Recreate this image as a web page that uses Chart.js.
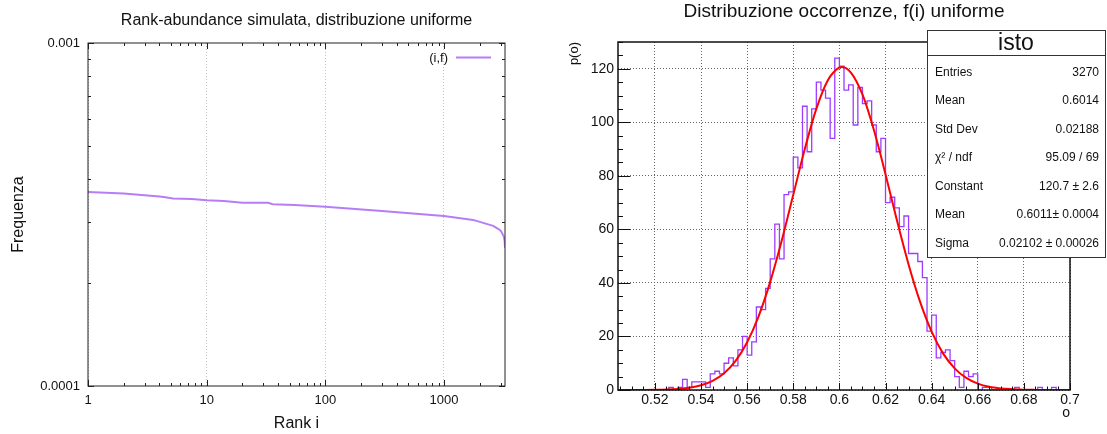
<!DOCTYPE html>
<html>
<head>
<meta charset="utf-8">
<script src="https://cdn.jsdelivr.net/npm/chart.js@4.4.1/dist/chart.umd.min.js"></script>
<style>
  html, body { margin: 0; padding: 0; background: #fff; }
  #wrap { position: relative; width: 1107px; height: 434px; overflow: hidden; }
  #rankChart { position: absolute; left: 0; top: 0; }
  #histChart { position: absolute; left: 540px; top: 0; }
</style>
</head>
<body>
<div id="wrap">
  <canvas id="rankChart" width="540" height="434"></canvas>
  <canvas id="histChart" width="567" height="434"></canvas>
</div>
<script>
// ---- rank-abundance curve (sorted frequencies) ----
const rankValues = [1, 2, 4, 4.5, 5.2, 7.5, 10, 14, 20, 33, 36, 55, 100, 300, 1000, 1760, 2600, 2770, 2960, 3060, 3200, 3250, 3270];
const freqValues = [3.68e-4, 3.64e-4, 3.57e-4, 3.55e-4, 3.52e-4, 3.51e-4, 3.48e-4, 3.46e-4, 3.42e-4, 3.42e-4, 3.39e-4, 3.37e-4,
                    3.33e-4, 3.24e-4, 3.13e-4, 3.05e-4, 2.93e-4, 2.89e-4, 2.85e-4, 2.81e-4, 2.72e-4, 2.64e-4, 2.53e-4];
const rankTicks = [1, 10, 100, 1000];
const freqTicks = [0.0001, 0.001];

// ---- occurrence histogram, 98 bins of 0.002 starting at 0.504 ----
const binStart = 0.504;
const binWidth = 0.002;
const binCounts = [
  0, 0, 0, 0, 0, 0, 0, 0, 0, 0,
  0, 1, 0, 1, 4, 1, 3, 3, 3, 1,
  6, 7, 6, 10, 12, 9, 15, 20, 13, 18,
  31, 30, 38, 49, 62, 49, 73, 74, 87, 83,
  106, 89, 105, 115, 112, 109, 94, 124, 121, 112,
  114, 99, 113, 107, 108, 99, 89, 94, 70, 72,
  68, 61, 65, 51, 51, 48, 42, 22, 28, 12,
  14, 15, 11, 5, 1, 7, 5, 6, 0, 1,
  1, 0, 0, 0, 0, 0, 1, 0, 0, 0,
  0, 1, 0, 0, 1, 0, 0, 0
];
// gaussian fit curve
const fitX = [0.504, 0.505, 0.51, 0.515, 0.52, 0.525, 0.53, 0.535, 0.54, 0.545, 0.55, 0.555, 0.56, 0.565, 0.57, 0.575,
              0.58, 0.585, 0.59, 0.595, 0.6, 0.6011, 0.605, 0.61, 0.615, 0.62, 0.625, 0.63, 0.635, 0.64, 0.645, 0.65,
              0.655, 0.66, 0.665, 0.67, 0.675, 0.68, 0.685, 0.69, 0.695, 0.7];
const fitY = [0, 0, 0.01, 0.03, 0.07, 0.17, 0.4, 0.86, 1.76, 3.43, 6.28, 10.89, 17.85, 27.62, 40.39, 55.83,
              72.93, 90.02, 105.0, 115.7, 120.5, 120.7, 118.6, 110.4, 97.0, 80.6, 63.2, 46.9, 32.9, 21.8, 13.6, 8.1,
              4.5, 2.4, 1.2, 0.6, 0.3, 0.1, 0.04, 0.02, 0.01, 0];
const occTicks = [0.52, 0.54, 0.56, 0.58, 0.6, 0.62, 0.64, 0.66, 0.68, 0.7];
const countTicks = [0, 20, 40, 60, 80, 100, 120];
const statLabels = ['Entries', 'Mean', 'Std Dev', 'χ² / ndf', 'Constant', 'Mean', 'Sigma'];
const statValues = ['3270', '0.6014', '0.02188', '95.09 / 69', '120.7 ± 2.6', '0.6011± 0.0004', '0.02102 ± 0.00026'];

const SANS = "'Liberation Sans', Arial, sans-serif";
Chart.defaults.font.family = SANS;
Chart.defaults.color = '#111';

// inward tick marks + frame drawn on top of the data
function frameTicks(cfg) {
  return {
    id: 'frameTicks',
    afterDatasetsDraw(chart) {
      const { ctx, chartArea: a } = chart;
      const sx = chart.scales.x, sy = chart.scales.y;
      ctx.save();
      ctx.strokeStyle = cfg.color;
      ctx.lineWidth = 1;
      ctx.beginPath();
      cfg.xTicks.forEach(([v, len]) => {
        const px = Math.round(sx.getPixelForValue(v)) + 0.5;
        ctx.moveTo(px, a.bottom); ctx.lineTo(px, a.bottom - len);
        if (cfg.mirror) { ctx.moveTo(px, a.top); ctx.lineTo(px, a.top + len); }
      });
      cfg.yTicks.forEach(([v, len]) => {
        const py = Math.round(sy.getPixelForValue(v)) + 0.5;
        ctx.moveTo(a.left, py); ctx.lineTo(a.left + len, py);
        if (cfg.mirror) { ctx.moveTo(a.right, py); ctx.lineTo(a.right - len, py); }
      });
      ctx.stroke();
      ctx.lineWidth = cfg.frameWidth;
      ctx.strokeRect(a.left, a.top, a.right - a.left, a.bottom - a.top);
      ctx.restore();
    }
  };
}

// ---------------- left: rank-abundance ----------------
const rankMinor = [];
[1, 10, 100, 1000].forEach(d => {
  for (let m = 2; m <= 9; m++) if (m * d < 3270) rankMinor.push([m * d, 3]);
});
const freqMinor = [];
for (let m = 2; m <= 9; m++) freqMinor.push([m * 0.0001, 3]);

const lineColor = '#b77df7';

const legendPlugin = {
  id: 'lineKey',
  afterDraw(chart) {
    const ctx = chart.ctx;
    ctx.save();
    ctx.font = '13px ' + SANS;
    ctx.fillStyle = '#111';
    ctx.textAlign = 'right';
    ctx.textBaseline = 'alphabetic';
    ctx.fillText(chart.data.datasets[0].label, 448, 61.5);
    ctx.strokeStyle = lineColor;
    ctx.lineWidth = 2;
    ctx.beginPath();
    ctx.moveTo(456, 57.5); ctx.lineTo(491, 57.5);
    ctx.stroke();
    ctx.restore();
  }
};

new Chart(document.getElementById('rankChart'), {
  type: 'line',
  data: {
    datasets: [{
      label: '(i,f)',
      data: rankValues.map((r, i) => ({ x: r, y: freqValues[i] })),
      borderColor: lineColor,
      borderWidth: 2,
      pointRadius: 0,
      tension: 0
    }]
  },
  options: {
    responsive: false,
    animation: false,
    layout: { padding: { left: 0, right: 35, top: 0, bottom: 0 } },
    plugins: {
      legend: { display: false },
      tooltip: { enabled: false },
      title: {
        display: true,
        fullSize: false,
        text: 'Rank-abundance simulata, distribuzione uniforme',
        font: { size: 16, weight: 'normal' },
        color: '#111',
        padding: { top: 10.8, bottom: 13 }
      }
    },
    scales: {
      x: {
        type: 'logarithmic',
        min: 1,
        max: 3270,
        afterBuildTicks: s => { s.ticks = rankTicks.map(v => ({ value: v })); },
        afterFit: s => { s.height = 48; },
        ticks: { callback: v => String(v), font: { size: 13 }, padding: 6.7, maxRotation: 0, autoSkip: false },
        grid: { color: '#c4c4c4', lineWidth: 1, drawTicks: false },
        border: { display: false, dash: [1, 2] },
        title: { display: true, text: 'Rank i', font: { size: 16 }, padding: { top: 0, bottom: 0.7 } }
      },
      y: {
        type: 'logarithmic',
        min: 0.0001,
        max: 0.001,
        afterBuildTicks: s => { s.ticks = freqTicks.map(v => ({ value: v })); },
        afterFit: s => { s.width = 88; },
        ticks: { callback: v => String(v), font: { size: 13 }, padding: 8, autoSkip: false },
        grid: { display: false, drawTicks: false },
        border: { display: false },
        title: { display: true, text: 'Frequenza', font: { size: 16 }, padding: { top: 8.8, bottom: 0 } }
      }
    }
  },
  plugins: [frameTicks({
    color: '#222', frameWidth: 1, mirror: true,
    xTicks: rankTicks.map(v => [v, 6]).concat(rankMinor),
    yTicks: freqTicks.map(v => [v, 6]).concat(freqMinor)
  }), legendPlugin]
});

// ---------------- right: occurrence histogram ----------------
const histPoints = binCounts.map((c, i) => ({ x: binStart + i * binWidth, y: c }));
histPoints.push({ x: binStart + binCounts.length * binWidth, y: binCounts[binCounts.length - 1] });

const occMinor = [];
for (let i = 101; i <= 140; i++) if (i % 4 !== 0) occMinor.push([i * 0.005, 3.5]);
const countMinor = [];
for (let v = 5; v <= 130; v += 5) if (v % 20 !== 0) countMinor.push([v, 5]);

const statsPlugin = {
  id: 'statsBox',
  afterDraw(chart) {
    const ctx = chart.ctx;
    const x0 = 387, y0 = 30, x1 = 565, y1 = 257;
    ctx.save();
    ctx.fillStyle = '#fff';
    ctx.fillRect(x0, y0, x1 - x0, y1 - y0);
    ctx.strokeStyle = '#333';
    ctx.lineWidth = 1;
    ctx.strokeRect(x0 + 0.5, y0 + 0.5, x1 - x0, y1 - y0);
    ctx.beginPath();
    ctx.moveTo(x0, 55.5); ctx.lineTo(x1, 55.5);
    ctx.stroke();
    ctx.fillStyle = '#111';
    ctx.textBaseline = 'alphabetic';
    ctx.textAlign = 'center';
    ctx.font = '23px ' + SANS;
    ctx.fillText('isto', (x0 + x1) / 2, 50);
    ctx.font = '12px ' + SANS;
    statLabels.forEach((lab, i) => {
      const by = 75.7 + i * 28.55;
      ctx.textAlign = 'left';
      ctx.fillText(lab, 395, by);
      ctx.textAlign = 'right';
      ctx.fillText(statValues[i], 559, by);
    });
    ctx.restore();
  }
};

new Chart(document.getElementById('histChart'), {
  type: 'line',
  data: {
    datasets: [{
      label: 'fit',
      data: fitX.map((x, i) => ({ x: x, y: fitY[i] })),
      borderColor: '#ff0000',
      borderWidth: 2,
      pointRadius: 0,
      cubicInterpolationMode: 'monotone',
      order: 0
    }, {
      label: 'isto',
      data: histPoints,
      borderColor: '#9d3cff',
      borderWidth: 1.3,
      pointRadius: 0,
      stepped: true,
      order: 1
    }]
  },
  options: {
    responsive: false,
    animation: false,
    layout: { padding: { left: 0, right: 37, top: 0, bottom: 0 } },
    plugins: {
      legend: { display: false },
      tooltip: { enabled: false },
      title: {
        display: true,
        fullSize: false,
        text: 'Distribuzione occorrenze, f(i) uniforme',
        font: { size: 19, weight: 'normal' },
        color: '#111',
        padding: { top: 0, bottom: 19.2 }
      }
    },
    scales: {
      x: {
        type: 'linear',
        min: binStart,
        max: 0.7,
        afterBuildTicks: s => { s.ticks = occTicks.map(v => ({ value: v })); },
        afterFit: s => { s.height = 44; },
        ticks: { callback: v => String(Number(v.toFixed(2))), font: { size: 14 }, padding: 1.7, maxRotation: 0, autoSkip: false },
        grid: { color: '#666', lineWidth: 1, drawTicks: false },
        border: { display: false, dash: [1, 2] },
        title: { display: true, text: 'o', align: 'end', font: { size: 14 }, padding: { top: 0, bottom: 12.2 } }
      },
      y: {
        type: 'linear',
        min: 0,
        max: 130,
        afterBuildTicks: s => { s.ticks = countTicks.map(v => ({ value: v })); },
        afterFit: s => { s.width = 78; },
        ticks: { font: { size: 14 }, padding: 4, autoSkip: false },
        grid: { color: '#666', lineWidth: 1, drawTicks: false },
        border: { display: false, dash: [1, 2] },
        title: { display: true, text: 'p(o)', align: 'end', font: { size: 13 }, padding: { top: 26.7, bottom: 0 } }
      }
    }
  },
  plugins: [frameTicks({
    color: '#111', frameWidth: 1.5, mirror: false,
    xTicks: occTicks.map(v => [v, 7]).concat(occMinor),
    yTicks: countTicks.map(v => [v, 12.5]).concat(countMinor)
  }), statsPlugin]
});
</script>
</body>
</html>
